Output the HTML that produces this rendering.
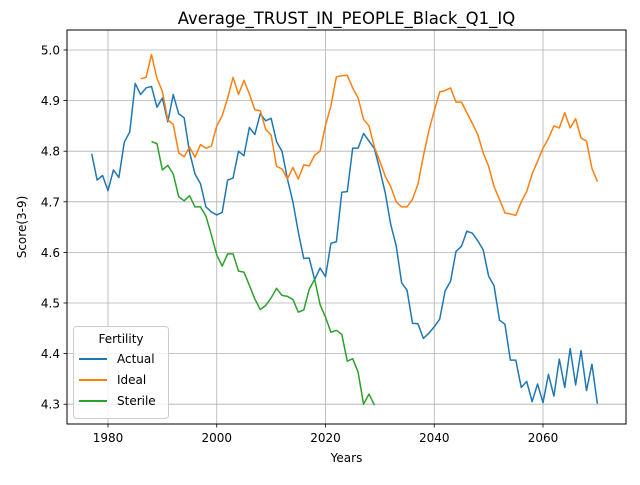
<!DOCTYPE html>
<html><head><meta charset="utf-8"><style>
body{margin:0;background:#fff;}
svg text{font-family:"DejaVu Sans","Liberation Sans",sans-serif;fill:#000;}
</style></head><body>
<svg id="chart" width="640" height="480" xmlns="http://www.w3.org/2000/svg">
<rect width="640" height="480" fill="#fff"/>
<g id="grid"></g>
<g id="series"></g>
<rect x="67" y="30" width="559" height="394" fill="none" stroke="#000" stroke-width="1"/>
<g id="axes"></g>
<text x="346.5" y="24" font-size="16.5" text-anchor="middle">Average_TRUST_IN_PEOPLE_Black_Q1_IQ</text>
<text x="346.5" y="462" font-size="12" text-anchor="middle">Years</text>
<text x="0" y="0" font-size="12" text-anchor="middle" transform="translate(26,227) rotate(-90)">Score(3-9)</text>
<g id="legend">
<rect x="73.5" y="326.5" width="95" height="92" rx="3" fill="#fff" fill-opacity="0.8" stroke="#ccc"/>
<text x="121" y="343" font-size="12" text-anchor="middle">Fertility</text>
<line x1="79" y1="359" x2="107" y2="359" stroke="#1f77b4" stroke-width="2"/>
<text x="117" y="363" font-size="12">Actual</text>
<line x1="79" y1="380" x2="107" y2="380" stroke="#ff7f0e" stroke-width="2"/>
<text x="117" y="384" font-size="12">Ideal</text>
<line x1="79" y1="401" x2="107" y2="401" stroke="#2ca02c" stroke-width="2"/>
<text x="117" y="405" font-size="12">Sterile</text>
</g>
</svg>
<script>
const xTicks=[1980,2000,2020,2040,2060];
const yTicks=[4.3,4.4,4.5,4.6,4.7,4.8,4.9,5.0];
const actualStart=1977;
const actualValues=[4.795,4.743,4.752,4.722,4.763,4.748,4.818,4.838,4.934,4.912,4.925,4.928,4.887,4.905,4.858,4.912,4.874,4.866,4.798,4.755,4.736,4.690,4.680,4.674,4.679,4.743,4.747,4.800,4.791,4.847,4.833,4.874,4.860,4.865,4.819,4.800,4.745,4.700,4.640,4.588,4.589,4.546,4.569,4.552,4.618,4.621,4.719,4.720,4.806,4.806,4.835,4.820,4.805,4.763,4.717,4.655,4.613,4.540,4.525,4.460,4.459,4.430,4.440,4.453,4.468,4.524,4.543,4.602,4.612,4.642,4.638,4.623,4.605,4.553,4.534,4.466,4.458,4.387,4.387,4.333,4.345,4.305,4.340,4.303,4.359,4.316,4.389,4.333,4.410,4.338,4.406,4.327,4.379,4.301];
const idealStart=1986;
const idealValues=[4.943,4.946,4.991,4.944,4.918,4.862,4.853,4.797,4.789,4.808,4.788,4.813,4.806,4.810,4.850,4.870,4.905,4.946,4.912,4.940,4.913,4.882,4.880,4.843,4.832,4.770,4.765,4.745,4.768,4.745,4.773,4.771,4.792,4.800,4.851,4.890,4.947,4.949,4.950,4.925,4.905,4.863,4.850,4.808,4.780,4.750,4.730,4.700,4.690,4.690,4.705,4.735,4.790,4.840,4.880,4.917,4.920,4.925,4.897,4.897,4.876,4.855,4.833,4.797,4.770,4.730,4.705,4.678,4.676,4.673,4.700,4.720,4.755,4.780,4.806,4.825,4.850,4.846,4.876,4.846,4.864,4.826,4.820,4.766,4.740];
const sterileStart=1988;
const sterileValues=[4.819,4.815,4.763,4.772,4.755,4.710,4.702,4.712,4.690,4.690,4.672,4.635,4.595,4.573,4.597,4.597,4.563,4.561,4.535,4.508,4.487,4.495,4.510,4.529,4.515,4.513,4.507,4.482,4.486,4.527,4.547,4.497,4.472,4.442,4.446,4.438,4.385,4.390,4.363,4.300,4.320,4.298];

const X=yr=>108+(yr-1980)*5.4375;
const Y=v=>50+(5.0-v)*506;
const NS="http://www.w3.org/2000/svg";
function mk(tag,attrs,parent){const e=document.createElementNS(NS,tag);for(const k in attrs)e.setAttribute(k,attrs[k]);parent.appendChild(e);return e;}
const grid=document.getElementById('grid'),axes=document.getElementById('axes'),series=document.getElementById('series');
xTicks.forEach(t=>{
  const g=mk('line',{x1:X(t),x2:X(t),y1:30,y2:424,stroke:'#b0b0b0','stroke-width':0.8},grid);
  
  
  const tk=mk('line',{x1:X(t),x2:X(t),y1:424,y2:427.5,stroke:'#000','stroke-width':0.8},axes);
  
  
  const tx=mk('text',{x:X(t),y:442,'font-size':12,'text-anchor':'middle'},axes);
  tx.textContent=t;
  
  
});
yTicks.forEach(t=>{
  const g=mk('line',{x1:67,x2:626,y1:Y(t),y2:Y(t),stroke:'#b0b0b0','stroke-width':0.8},grid);
  
  
  const tk=mk('line',{x1:63.5,x2:67,y1:Y(t),y2:Y(t),stroke:'#000','stroke-width':0.8},axes);
  
  
  const tx=mk('text',{x:60,y:Y(t)+4.5,'font-size':12,'text-anchor':'end'},axes);
  tx.textContent=t.toFixed(1);
  
  
});
function line(start,vals,color,name){
  const pts=vals.map((v,i)=>X(start+i).toFixed(2)+','+Y(v).toFixed(2)).join(' ');
  const p=mk('polyline',{points:pts,fill:'none',stroke:color,'stroke-width':1.5,'stroke-linejoin':'round'},series);
  
  
}
line(actualStart,actualValues,'#1f77b4','actual-line');
line(idealStart,idealValues,'#ff7f0e','ideal-line');
line(sterileStart,sterileValues,'#2ca02c','sterile-line');
</script>
</body></html>
